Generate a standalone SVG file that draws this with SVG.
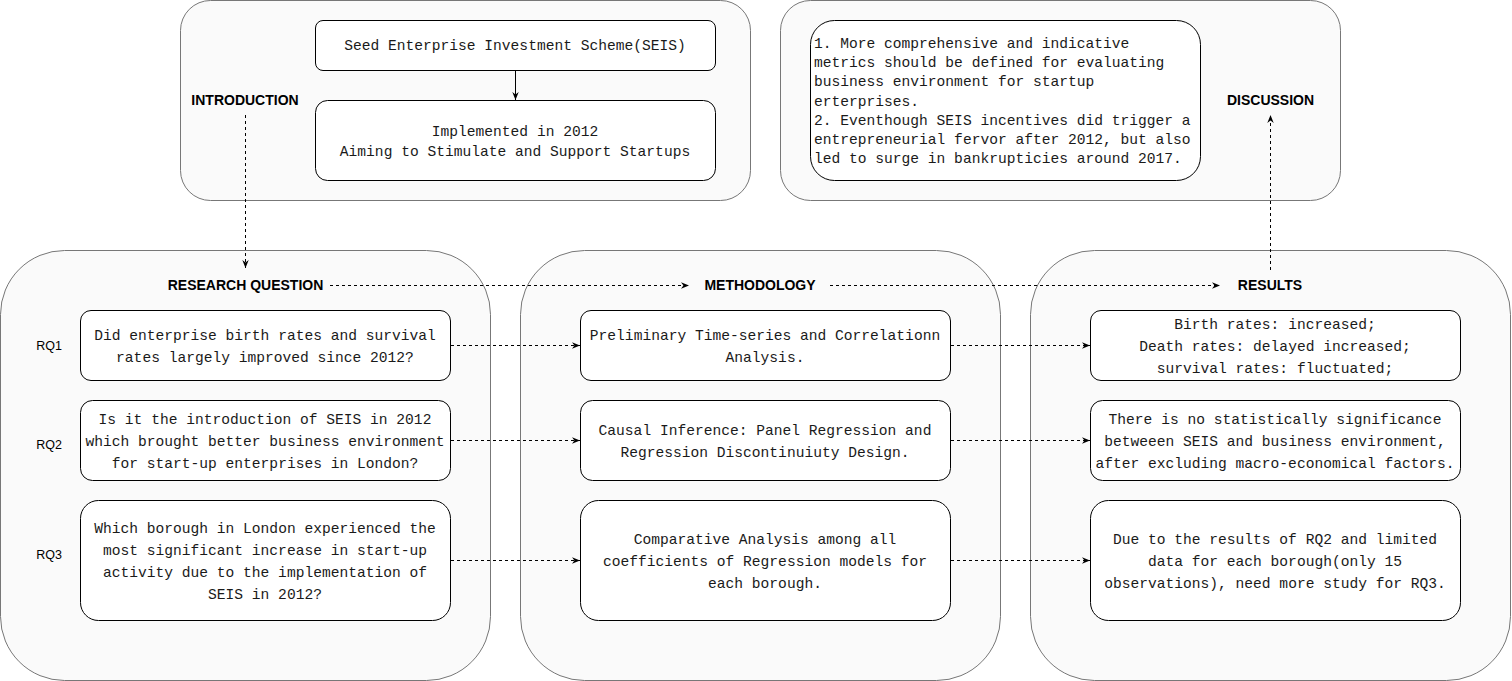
<svg xmlns="http://www.w3.org/2000/svg" width="1512" height="681" viewBox="0 0 1512 681">
<style>
.cont{fill:#fafafa;stroke:#777777;stroke-width:1}
.box{fill:#ffffff;stroke:#000000;stroke-width:1}
.mono{font-family:"Liberation Mono","DejaVu Sans Mono",monospace;font-size:14.6px;fill:#1a1a1a}
.c{text-anchor:middle}
.lbl{font-family:"Liberation Sans",Arial,sans-serif;font-size:14px;font-weight:bold;fill:#000;text-anchor:middle}
.rq{font-family:"Liberation Sans",Arial,sans-serif;font-size:12.5px;fill:#000;text-anchor:middle}
.dash{fill:none;stroke:#000;stroke-width:1;stroke-dasharray:3 3}
.solid{fill:none;stroke:#000;stroke-width:1}
</style>
<defs>
<marker id="arr" viewBox="0 0 10 10" refX="10" refY="5" markerWidth="8" markerHeight="8" markerUnits="userSpaceOnUse" orient="auto">
<path d="M0,1 L10,5 L0,9 L3,5 Z" fill="#000"/>
</marker>
</defs>

<g id="intro-container">
<rect class="cont" x="180.5" y="0.5" width="570" height="200" rx="30" ry="30"/>
<text class="lbl" x="245" y="105">INTRODUCTION</text>
</g>
<g id="discussion-container">
<rect class="cont" x="780.5" y="0.5" width="560" height="200" rx="30" ry="30"/>
<text class="lbl" x="1270.5" y="105">DISCUSSION</text>
</g>
<g id="rq-container">
<rect class="cont" x="0.5" y="250.5" width="490" height="430" rx="64" ry="64"/>
<text class="lbl" x="245.5" y="289.5">RESEARCH QUESTION</text>
</g>
<g id="method-container">
<rect class="cont" x="520.5" y="250.5" width="480" height="430" rx="64" ry="64"/>
<text class="lbl" x="760" y="289.5">METHODOLOGY</text>
</g>
<g id="results-container">
<rect class="cont" x="1030.5" y="250.5" width="480" height="430" rx="64" ry="64"/>
<text class="lbl" x="1270" y="289.5">RESULTS</text>
</g>

<g id="seis">
<rect class="box" x="315.5" y="20.5" width="400" height="50" rx="7.5" ry="7.5"/>
<text class="mono c" x="515" y="50">Seed Enterprise Investment Scheme(SEIS)</text>
</g>
<g id="implemented">
<rect class="box" x="315.5" y="100.5" width="400" height="80" rx="12" ry="12"/>
<text class="mono c" x="515" y="136">Implemented in 2012</text>
<text class="mono c" x="515" y="156">Aiming to Stimulate and Support Startups</text>
</g>
<g id="discussion">
<rect class="box" x="810.5" y="20.5" width="390" height="160" rx="24" ry="24"/>
<text class="mono" x="814">
<tspan x="814" y="48">1. More comprehensive and indicative</tspan>
<tspan x="814" y="67.2">metrics should be defined for evaluating</tspan>
<tspan x="814" y="86.4">business environment for startup</tspan>
<tspan x="814" y="105.6">erterprises.</tspan>
<tspan x="814" y="124.8">2. Eventhough SEIS incentives did trigger a</tspan>
<tspan x="814" y="144">entrepreneurial fervor after 2012, but also</tspan>
<tspan x="814" y="163.2">led to surge in bankrupticies around 2017.</tspan>
</text>
</g>

<g id="rq1-label"><text class="rq" x="49" y="349.5">RQ1</text></g>
<g id="rq2-label"><text class="rq" x="49" y="448.8">RQ2</text></g>
<g id="rq3-label"><text class="rq" x="49" y="558.8">RQ3</text></g>

<g id="rq1">
<rect class="box" x="80.5" y="310.5" width="370" height="70" rx="10.5" ry="10.5"/>
<text class="mono c" x="265" y="339.5">Did enterprise birth rates and survival</text>
<text class="mono c" x="265" y="361.5">rates largely improved since 2012?</text>
</g>
<g id="rq2">
<rect class="box" x="80.5" y="400.5" width="370" height="80" rx="12" ry="12"/>
<text class="mono c" x="265" y="423.5">Is it the introduction of SEIS in 2012</text>
<text class="mono c" x="265" y="445.5">which brought better business environment</text>
<text class="mono c" x="265" y="467.5">for start-up enterprises in London?</text>
</g>
<g id="rq3">
<rect class="box" x="80.5" y="500.5" width="370" height="120" rx="18" ry="18"/>
<text class="mono c" x="265" y="533">Which borough in London experienced the</text>
<text class="mono c" x="265" y="555">most significant increase in start-up</text>
<text class="mono c" x="265" y="577">activity due to the implementation of</text>
<text class="mono c" x="265" y="599">SEIS in 2012?</text>
</g>

<g id="m1">
<rect class="box" x="580.5" y="310.5" width="370" height="70" rx="10.5" ry="10.5"/>
<text class="mono c" x="765" y="339.5">Preliminary Time-series and Correlationn</text>
<text class="mono c" x="765" y="361.5">Analysis.</text>
</g>
<g id="m2">
<rect class="box" x="580.5" y="400.5" width="370" height="80" rx="12" ry="12"/>
<text class="mono c" x="765" y="434.5">Causal Inference: Panel Regression and</text>
<text class="mono c" x="765" y="456.5">Regression Discontinuiuty Design.</text>
</g>
<g id="m3">
<rect class="box" x="580.5" y="500.5" width="370" height="120" rx="18" ry="18"/>
<text class="mono c" x="765" y="543.5">Comparative Analysis among all</text>
<text class="mono c" x="765" y="565.5">coefficients of Regression models for</text>
<text class="mono c" x="765" y="587.5">each borough.</text>
</g>

<g id="r1">
<rect class="box" x="1090.5" y="310.5" width="370" height="70" rx="10.5" ry="10.5"/>
<text class="mono c" x="1275" y="328.5">Birth rates: increased;</text>
<text class="mono c" x="1275" y="350.5">Death rates: delayed increased;</text>
<text class="mono c" x="1275" y="372.5">survival rates: fluctuated;</text>
</g>
<g id="r2">
<rect class="box" x="1090.5" y="400.5" width="370" height="80" rx="12" ry="12"/>
<text class="mono c" x="1275" y="423.5">There is no statistically significance</text>
<text class="mono c" x="1275" y="445.5">betweeen SEIS and business environment,</text>
<text class="mono c" x="1275" y="467.5">after excluding macro-economical factors.</text>
</g>
<g id="r3">
<rect class="box" x="1090.5" y="500.5" width="370" height="120" rx="18" ry="18"/>
<text class="mono c" x="1275" y="543.5">Due to the results of RQ2 and limited</text>
<text class="mono c" x="1275" y="565.5">data for each borough(only 15</text>
<text class="mono c" x="1275" y="587.5">observations), need more study for RQ3.</text>
</g>

<g id="connectors">
<path class="solid" d="M515.5,71 L515.5,100" marker-end="url(#arr)"/>
<path class="dash" d="M245.5,115 L245.5,268" marker-end="url(#arr)"/>
<path class="dash" d="M330,285.5 L689,285.5" marker-end="url(#arr)"/>
<path class="dash" d="M830,285.5 L1220,285.5" marker-end="url(#arr)"/>
<path class="dash" d="M1270.5,270 L1270.5,115" marker-end="url(#arr)"/>
<path class="dash" d="M451,345.5 L580,345.5" marker-end="url(#arr)"/>
<path class="dash" d="M451,440.5 L580,440.5" marker-end="url(#arr)"/>
<path class="dash" d="M451,560.5 L580,560.5" marker-end="url(#arr)"/>
<path class="dash" d="M951,345.5 L1090,345.5" marker-end="url(#arr)"/>
<path class="dash" d="M951,440.5 L1090,440.5" marker-end="url(#arr)"/>
<path class="dash" d="M951,560.5 L1090,560.5" marker-end="url(#arr)"/>
</g>
</svg>
